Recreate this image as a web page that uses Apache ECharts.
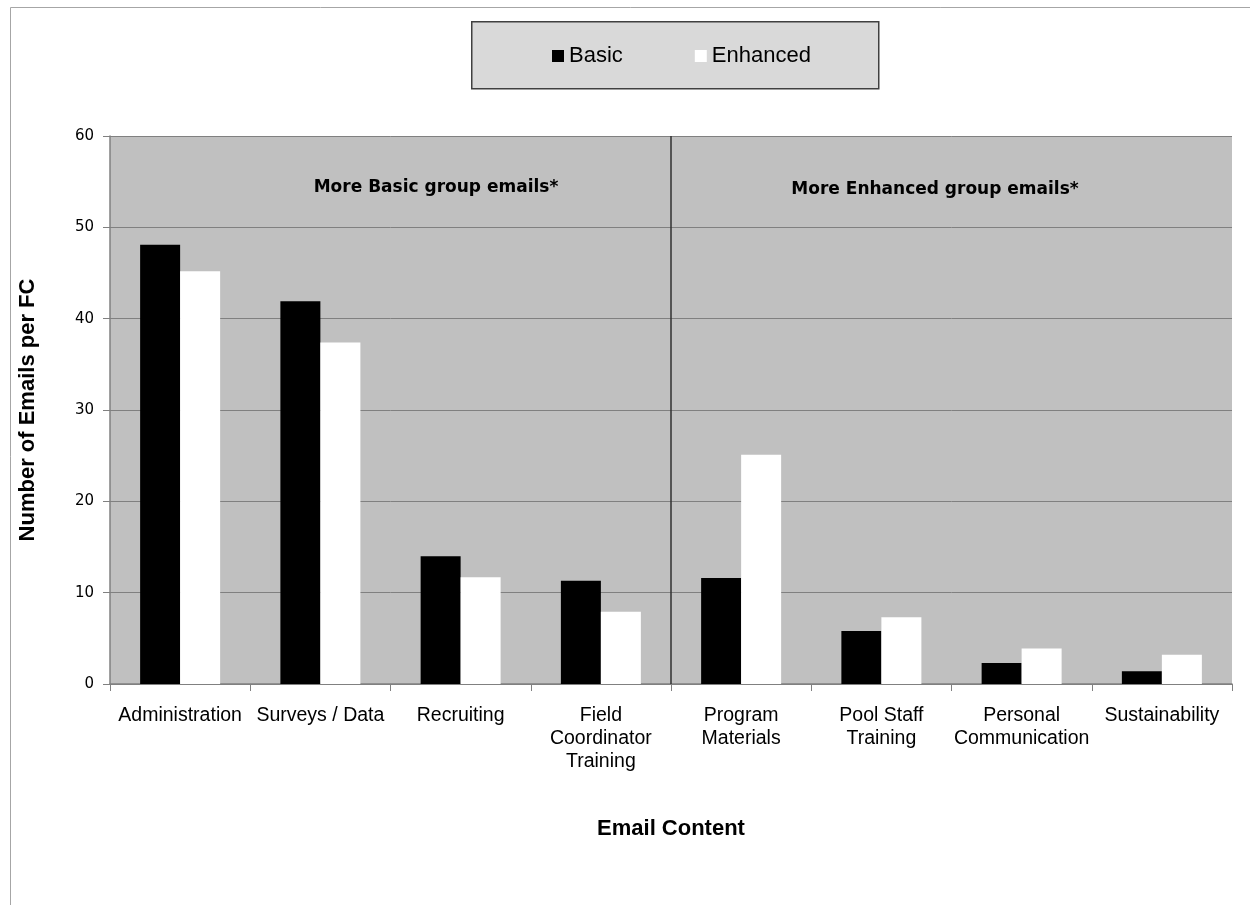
<!DOCTYPE html>
<html>
<head>
<meta charset="utf-8">
<script src="https://cdn.jsdelivr.net/npm/echarts@6/dist/echarts.min.js"></script>
<style>
  html, body { margin: 0; padding: 0; background: #fff; }
  #chart { width: 1250px; height: 905px; }
</style>
</head>
<body>
<div id="chart"></div>
<script>
var categories = ['Administration', 'Surveys / Data', 'Recruiting', 'Field\nCoordinator\nTraining',
  'Program\nMaterials', 'Pool Staff\nTraining', 'Personal\nCommunication', 'Sustainability'];
var basic = [48.1, 41.9, 14.0, 11.3, 11.6, 5.8, 2.3, 1.4];
var enhanced = [45.2, 37.4, 11.7, 7.9, 25.1, 7.3, 3.9, 3.2];
var yTicks = { min: 0, max: 60, interval: 10 };
var dividerAt = 4; // boundary between the two groups of categories

var chart = echarts.init(document.getElementById('chart'));
chart.setOption({
  animation: false,
  textStyle: { fontFamily: 'Liberation Sans, Arial, sans-serif' },
  graphic: [
    // outer frame
    { type: 'rect', left: 8, top: 5, shape: { width: 1400, height: 1000 },
      style: { fill: 'none', stroke: '#a6a6a6', lineWidth: 1 }, z: -10 },
    // legend box
    { type: 'rect', left: 471, top: 21, shape: { width: 407, height: 67 },
      style: { fill: '#d9d9d9', stroke: '#404040', lineWidth: 1.5 }, z: -5 }
  ],
  title: [
    { text: 'More Basic group emails*', left: 431, top: 174, textAlign: 'center',
      textStyle: { fontSize: 17, fontWeight: 'bold', color: '#000',
        fontFamily: 'DejaVu Sans, Verdana, sans-serif' } },
    { text: 'More Enhanced group emails*', left: 930, top: 176, textAlign: 'center',
      textStyle: { fontSize: 17, fontWeight: 'bold', color: '#000',
        fontFamily: 'DejaVu Sans, Verdana, sans-serif' } }
  ],
  legend: {
    left: 547, top: 40, itemGap: 72,
    itemWidth: 12, itemHeight: 12, icon: 'rect',
    textStyle: { fontSize: 22, color: '#000' },
    data: [
      { name: 'Basic', itemStyle: { color: '#000' } },
      { name: 'Enhanced', itemStyle: { color: '#fff', borderWidth: 0 } }
    ]
  },
  grid: { left: 110, right: 18, top: 136, bottom: 221, show: true,
    backgroundColor: '#c0c0c0', borderWidth: 0 },
  xAxis: [{
    type: 'category', data: categories,
    name: 'Email Content', nameLocation: 'middle', nameGap: 134,
    nameTextStyle: { fontSize: 22, fontWeight: 'bold', color: '#000' },
    axisLine: { lineStyle: { color: '#808080', width: 1.5 } },
    axisTick: { show: true, length: 7, lineStyle: { color: '#808080' } },
    axisLabel: { fontSize: 19.5, color: '#000', lineHeight: 23, margin: 20, interval: 0 }
  }, {
    type: 'value', min: 0, max: categories.length, show: false
  }],
  yAxis: {
    type: 'value', min: yTicks.min, max: yTicks.max, interval: yTicks.interval,
    name: 'Number of Emails per FC', nameLocation: 'middle', nameGap: 71,
    nameTextStyle: { fontSize: 22, fontWeight: 'bold', color: '#000' },
    axisLine: { show: true, lineStyle: { color: '#808080', width: 1.5 } },
    axisTick: { show: true, length: 7, lineStyle: { color: '#808080' } },
    axisLabel: { fontSize: 15, color: '#000', margin: 16,
      fontFamily: 'DejaVu Sans, Verdana, sans-serif' },
    splitLine: { lineStyle: { color: '#808080', width: 1 } }
  },
  series: [
    { name: 'Basic', type: 'bar', data: basic, barWidth: 40, barGap: '0%',
      itemStyle: { color: '#000' } },
    { name: 'Enhanced', type: 'bar', data: enhanced, barWidth: 40,
      itemStyle: { color: '#fff' } },
    { name: 'divider', type: 'line', xAxisIndex: 1, data: [], silent: true,
      markLine: { symbol: 'none', silent: true, label: { show: false },
        lineStyle: { color: '#303030', width: 1.5, type: 'solid' },
        data: [[{ coord: [dividerAt, 0] }, { coord: [dividerAt, yTicks.max] }]] } }
  ]
});
</script>
</body>
</html>
